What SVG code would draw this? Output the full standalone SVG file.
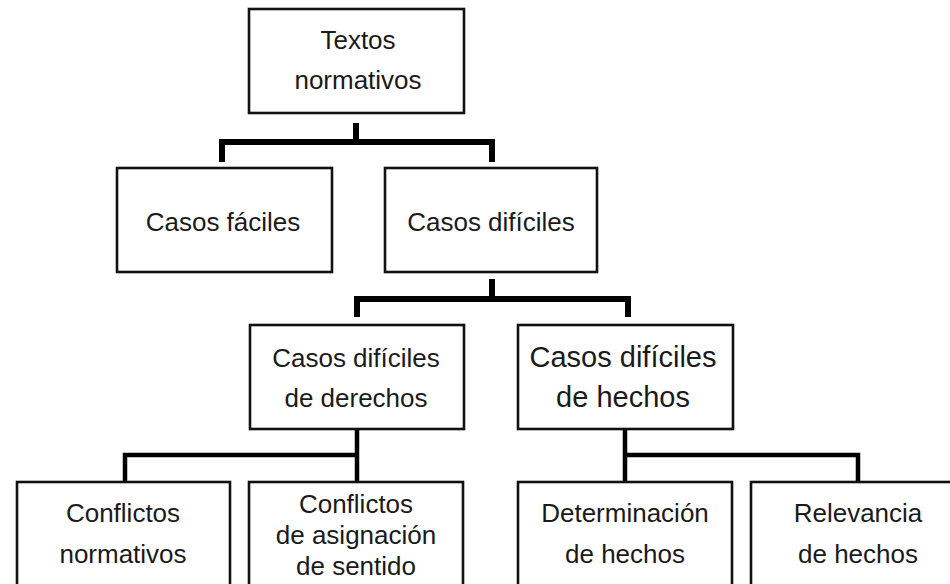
<svg xmlns="http://www.w3.org/2000/svg" width="950" height="584" viewBox="0 0 950 584">
<style>
.box{fill:#fff;stroke:#111;stroke-width:2.6}
.t{font-family:"Liberation Sans",Arial,sans-serif;font-size:26px;fill:#1a1a1a;text-anchor:middle}
.big{font-size:29px}
.c{fill:none;stroke:#000;stroke-linejoin:miter;stroke-linecap:butt}
.w6{stroke-width:6}
.w4{stroke-width:4.5}
</style>
<rect width="950" height="584" fill="#fff"/>
<g id="connectors">
<path class="c w6" d="M356 123 V142 M222 162 V142 H492 V162"/>
<path class="c w6" d="M492 279 V299 M357 317 V299 H628 V317"/>
<path class="c w4" d="M357 430 V455 M357 481 V455 H125 V481"/>
<path class="c w4" d="M625 430 V481 M625 455 H858 V481"/>
</g>
<g id="textos-normativos">
<rect class="box" x="249" y="9" width="215" height="104"/>
<text class="t" x="358" y="49">Textos</text>
<text class="t" x="358" y="89">normativos</text>
</g>
<g id="casos-faciles">
<rect class="box" x="117" y="168" width="215" height="104"/>
<text class="t" x="223" y="231">Casos fáciles</text>
</g>
<g id="casos-dificiles">
<rect class="box" x="385" y="168" width="212" height="104"/>
<text class="t" x="491" y="231">Casos difíciles</text>
</g>
<g id="casos-dificiles-derechos">
<rect class="box" x="250" y="325" width="214" height="104"/>
<text class="t" x="356" y="367">Casos difíciles</text>
<text class="t" x="356" y="407">de derechos</text>
</g>
<g id="casos-dificiles-hechos">
<rect class="box" x="518" y="325" width="215" height="104"/>
<text class="t big" x="623" y="367">Casos difíciles</text>
<text class="t big" x="623" y="407">de hechos</text>
</g>
<g id="conflictos-normativos">
<rect class="box" x="17" y="482" width="213" height="110"/>
<text class="t" x="123" y="522">Conflictos</text>
<text class="t" x="123" y="563">normativos</text>
</g>
<g id="conflictos-asignacion">
<rect class="box" x="249" y="482" width="214" height="110"/>
<text class="t" x="356" y="513">Conflictos</text>
<text class="t" x="356" y="544">de asignación</text>
<text class="t" x="356" y="575">de sentido</text>
</g>
<g id="determinacion-hechos">
<rect class="box" x="518" y="482" width="214" height="110"/>
<text class="t" x="625" y="522">Determinación</text>
<text class="t" x="625" y="563">de hechos</text>
</g>
<g id="relevancia-hechos">
<rect class="box" x="751" y="482" width="214" height="110"/>
<text class="t" x="858" y="522">Relevancia</text>
<text class="t" x="858" y="563">de hechos</text>
</g>
</svg>
